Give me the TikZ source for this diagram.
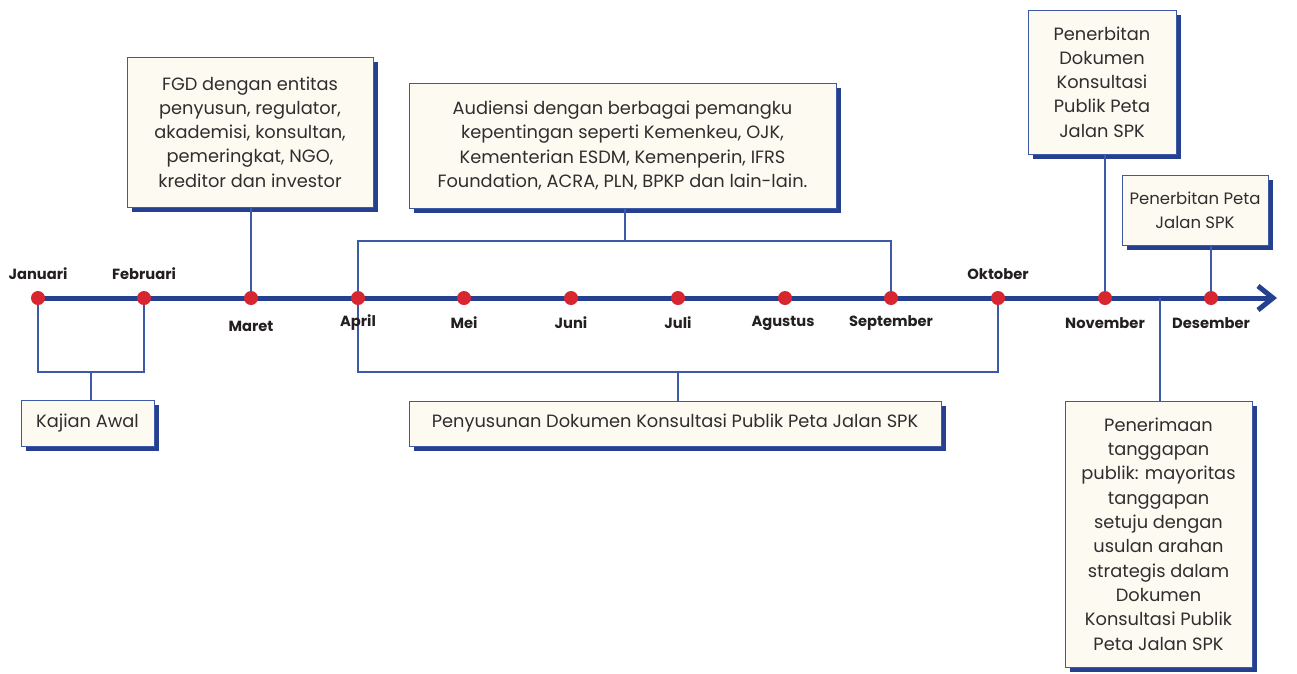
\documentclass[tikz,border=0pt]{standalone}
\usepackage{fontspec}
\setmainfont{Poppins}
\usetikzlibrary{shadows,calc}
\definecolor{mainblue}{HTML}{24408E}
\definecolor{thinblue}{HTML}{3D5AA8}
\definecolor{dotred}{HTML}{D7262F}
\definecolor{boxfill}{HTML}{FDFAF2}
\definecolor{txt}{HTML}{2E2E2E}
\definecolor{lbl}{HTML}{231F20}
\tikzset{
  evbox/.style={draw=thinblue, line width=1pt, fill=boxfill, text=txt,
    align=center, inner sep=0pt,
    font=\fontsize{17.8}{24.3}\selectfont,
    drop shadow={shadow xshift=5pt, shadow yshift=-5pt, fill=mainblue, opacity=1}},
  dot/.style={circle, fill=dotred, minimum size=14pt, inner sep=0pt},
  mlabel/.style={text=lbl, font=\fontsize{14.7}{16}\selectfont\bfseries, inner sep=0pt},
  conn/.style={draw=thinblue, line width=1.4pt},
  mainline/.style={draw=mainblue, line width=5pt}
}
\begin{document}
\begin{tikzpicture}[x=1pt,y=-1pt]
\useasboundingbox (0,0) rectangle (1297,673);
% timeline coordinates
\coordinate (m1) at (38,298);
\coordinate (m2) at (144,298);
\coordinate (m3) at (251,298);
\coordinate (m4) at (358,298);
\coordinate (m5) at (464,298);
\coordinate (m6) at (571,298);
\coordinate (m7) at (678,298);
\coordinate (m8) at (785,298);
\coordinate (m9) at (891,298);
\coordinate (m10) at (998,298);
\coordinate (m11) at (1105,298);
\coordinate (m12) at (1211,298);
\coordinate (tip) at (1273,298);
\coordinate (pl) at (1160,298);
\coordinate (audj) at (625,241);
\coordinate (kajj) at (91,372);
\coordinate (penj) at (678,372);
% main line
\draw[mainline] (m1) -- (tip);
\draw[mainline, line cap=butt, line join=miter] ($(tip)+(-15,-12)$) -- (tip) -- ($(tip)+(-15,12)$);
% boxes
\node[evbox, minimum width=246pt, minimum height=150pt] (fgd) at (250,132)
  {FGD dengan entitas\\penyusun, regulator,\\akademisi, konsultan,\\pemeringkat, NGO,\\kreditor dan investor};
\node[evbox, minimum width=427pt, minimum height=125pt] (aud) at (622.5,145.5)
  {Audiensi dengan berbagai pemangku\\kepentingan seperti Kemenkeu, OJK,\\Kementerian ESDM, Kemenperin, IFRS\\Foundation, ACRA, PLN, BPKP dan lain-lain.};
\node[evbox, minimum width=148pt, minimum height=144pt] (pdk) at (1102,82)
  {Penerbitan\\Dokumen\\Konsultasi\\Publik Peta\\Jalan SPK};
\node[evbox, minimum width=146pt, minimum height=70pt, font=\fontsize{16.5}{24.3}\selectfont] (ppj) at (1195,210)
  {Penerbitan Peta\\Jalan SPK};
\node[evbox, minimum width=133pt, minimum height=46pt] (kaj) at (87.5,423)
  {Kajian Awal};
\node[evbox, minimum width=532pt, minimum height=45pt] (pny) at (675,423.5)
  {Penyusunan Dokumen Konsultasi Publik Peta Jalan SPK};
\node[evbox, minimum width=187pt, minimum height=266pt] (pnr) at (1158.5,534)
  {Penerimaan\\tanggapan\\publik: mayoritas\\tanggapan\\setuju dengan\\usulan arahan\\strategis dalam\\Dokumen\\Konsultasi Publik\\Peta Jalan SPK};
% connectors
\draw[conn] (fgd.south -| m3) -- (m3);
\draw[conn] (aud.south -| audj) -- (audj);
\draw[conn] (m4) |- (audj) -| (m9);
\draw[conn] (pdk.south -| m11) -- (m11);
\draw[conn] (ppj.south -| m12) -- (m12);
\draw[conn] (kaj.north -| kajj) -- (kajj);
\draw[conn] (m1) |- (kajj) -| (m2);
\draw[conn] (pny.north -| penj) -- (penj);
\draw[conn] (m4) |- (penj) -| (m10);
\draw[conn] (pnr.north -| pl) -- (pl);
% dots
\foreach \i in {1,...,12} \node[dot] (d\i) at (m\i) {};
% labels
\node[mlabel] (l1) at (38,274) {Januari};
\node[mlabel] (l2) at (144,274) {Februari};
\node[mlabel] (l3) at (251,326) {Maret};
\node[mlabel] (l4) at (358,323) {April};
\node[mlabel] (l5) at (464,323) {Mei};
\node[mlabel] (l6) at (571,323) {Juni};
\node[mlabel] (l7) at (678,323) {Juli};
\node[mlabel] (l8) at (783,323) {Agustus};
\node[mlabel] (l9) at (891,323) {September};
\node[mlabel] (l10) at (998,274) {Oktober};
\node[mlabel] (l11) at (1105,323) {November};
\node[mlabel] (l12) at (1211,323) {Desember};
\end{tikzpicture}
\end{document}
